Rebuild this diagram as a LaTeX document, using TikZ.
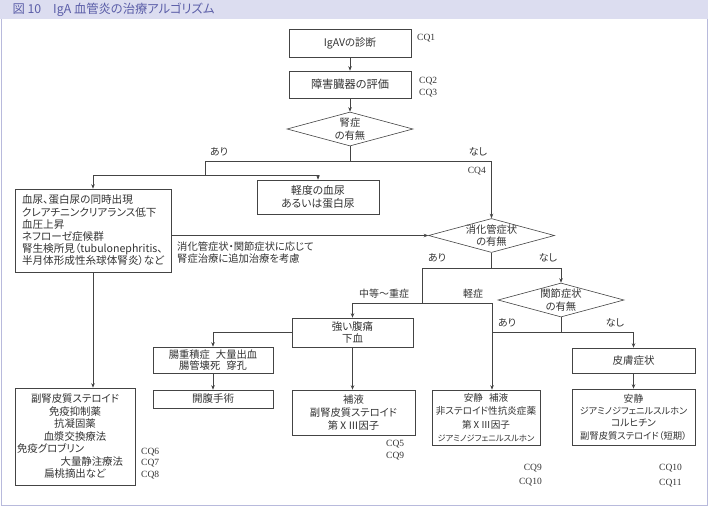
\documentclass[tikz,border=0pt]{standalone}
\usepackage{fontspec}
\setmainfont[RawFeature=+palt]{Noto Sans CJK JP}
\newfontfamily\cqfont{Liberation Serif}
\usetikzlibrary{shapes.geometric, arrows.meta}
\definecolor{lavender}{HTML}{DCDDF0}
\definecolor{framelav}{HTML}{B8BADC}
\definecolor{titleblue}{HTML}{5B5EA8}
\definecolor{wire}{HTML}{444444}
\definecolor{ink}{HTML}{333333}

\begin{document}
\begin{tikzpicture}[x=1pt, y=-1pt,
    every node/.style={text=ink},
    box/.style={draw=wire, line width=0.6pt, fill=white, align=center, inner sep=0pt, font=\fontsize{10.5}{12.5}\selectfont},
    dia/.style={diamond, draw=wire, line width=0.6pt, fill=white, minimum width=126pt, minimum height=34pt, inner sep=0pt},
    dtext/.style={align=center, inner sep=0pt, font=\fontsize{10.3}{12.5}\selectfont},
    lbl/.style={inner sep=0pt, font=\fontsize{10}{11}\selectfont},
    cq/.style={inner sep=0pt, align=left, font=\cqfont\fontsize{9.5}{12}\selectfont},
    link/.style={draw=wire, line width=0.6pt},
    arr/.style={link, -{Stealth[length=4.5pt, width=3.5pt]}}]
    \useasboundingbox (0,0) rectangle (708,506);

    % Frame and title bar
    \fill[lavender] (0,0) rectangle (708,19);
    \draw[framelav, line width=1pt] (1,19) -- (1,505) -- (707,505) -- (707,19);
    \node[anchor=west, text=titleblue, font=\fontsize{12.3}{13}\selectfont] (title) at (9,10) {図 10\hspace{12pt}IgA 血管炎の治療アルゴリズム};

    % Nodes
    \node[box, minimum width=122pt, minimum height=28pt] (diag) at (350,43) {IgAVの診断};
    \node[box, minimum width=122pt, minimum height=27pt, font=\fontsize{11.2}{12.5}\selectfont] (eval) at (350,84.5) {障害臓器の評価};
    \node[dia] (renal) at (350,129) {};
    \node[dtext] (renalt) at (renal) {腎症\\の有無};

    \node[box, minimum width=122pt, minimum height=34pt, font=\fontsize{10.8}{13}\selectfont] (mild) at (318,197) {軽度の血尿\\あるいは蛋白尿};
    \node[box, minimum width=156pt, minimum height=83pt, text width=142pt, align=left, font=\fontsize{10.6}{12.2}\selectfont] (big) at (93,230.5)
        {血尿、蛋白尿の同時出現\\クレアチニンクリアランス低下\\血圧上昇\\ネフローゼ症候群\\腎生検所見（tubulonephritis、\\半月体形成性糸球体腎炎）など};
    \node[anchor=west, align=left, inner sep=0pt, font=\fontsize{10.3}{11.5}\selectfont] (addnote) at (177,252.5)
        {消化管症状・関節症状に応じて\\腎症治療に追加治療を考慮};

    \node[dia] (gi) at (491.5,235.5) {};
    \node[dtext] (git) at (gi) {消化管症状\\の有無};
    \node[dia] (joint) at (561,300) {};
    \node[dtext] (jointt) at (joint) {関節症状\\の有無};

    \node[box, minimum width=121pt, minimum height=29pt] (pain) at (352.5,332.5) {強い腹痛\\下血};
    \node[box, minimum width=120pt, minimum height=26pt, font=\fontsize{10.3}{11.5}\selectfont] (intus) at (213,360)
        {腸重積症\hspace{6pt}大量出血\\腸管壊死\hspace{6pt}穿孔};
    \node[box, minimum width=120pt, minimum height=18pt] (surg) at (213,399) {開腹手術};
    \node[box, minimum width=123pt, minimum height=45pt, font=\fontsize{10.3}{13}\selectfont] (fluid) at (353.5,412.5)
        {補液\\副腎皮質ステロイド\\第ⅩⅢ因子};
    \node[box, minimum width=108pt, minimum height=55pt, font=\fontsize{9.6}{13.3}\selectfont] (rest) at (486,417.5)
        {安静\hspace{6pt}補液\\非ステロイド性抗炎症薬\\第ⅩⅢ因子\\{\fontsize{8.3}{13.3}\selectfont ジアミノジフェニルスルホン}};
    \node[box, minimum width=123pt, minimum height=25pt] (skin) at (633.5,360.5) {皮膚症状};
    \node[box, minimum width=123pt, minimum height=56pt, font=\fontsize{9.8}{12.3}\selectfont] (skintx) at (633.5,417)
        {安静\\{\fontsize{9.2}{12.3}\selectfont ジアミノジフェニルスルホン}\\コルヒチン\\{\fontsize{9.3}{12.3}\selectfont 副腎皮質ステロイド（短期）}};
    \node[box, minimum width=120pt, minimum height=97pt, font=\fontsize{10.4}{12.5}\selectfont] (ster) at (75,436.5)
        {副腎皮質ステロイド\\免疫抑制薬\\抗凝固薬\\血漿交換療法\\\makebox[116pt][l]{免疫グロブリン}\\\makebox[116pt][r]{大量静注療法\hspace{10pt}}\\扁桃摘出など};

    % Branch labels
    \node[lbl] (ari1) at (219,152) {あり};
    \node[lbl] (nashi1) at (478,152) {なし};
    \node[lbl] (ari2) at (437,258) {あり};
    \node[lbl] (nashi2) at (548,258) {なし};
    \node[lbl] (severe) at (384,294) {中等～重症};
    \node[lbl] (light) at (473,294) {軽症};
    \node[lbl] (ari3) at (507,323) {あり};
    \node[lbl] (nashi3) at (615,323) {なし};

    % CQ numbers
    \node[cq, anchor=west] (cq1) at (417,38) {CQ1};
    \node[cq, anchor=west] (cq23) at (419,87) {CQ2\\CQ3};
    \node[cq, anchor=east] (cq4) at (486,171) {CQ4};
    \node[cq, anchor=west] (cq59) at (386,450) {CQ5\\CQ9};
    \node[cq, anchor=west, font=\cqfont\fontsize{9.5}{11.5}\selectfont] (cq678) at (141,463.5) {CQ6\\CQ7\\CQ8};
    \node[cq, anchor=east, align=right, font=\cqfont\fontsize{9.5}{14}\selectfont] (cq910) at (542,475) {CQ9\\CQ10};
    \node[cq, anchor=west, font=\cqfont\fontsize{9.5}{14.5}\selectfont] (cq1011) at (659,475.5) {CQ10\\CQ11};

    % Junctions
    \coordinate (rl) at (205,161);
    \coordinate (rr) at (491.5,161);
    \coordinate (rs) at (205,175);
    \coordinate (gl) at (422,268);
    \coordinate (gr) at (561,268);
    \coordinate (gs) at (422,303);
    \coordinate (gm) at (492,303);
    \coordinate (jl) at (492,332);
    \coordinate (jr) at (633.5,332);

    % Connectors
    \draw[arr] (diag) -- (eval);
    \draw[arr] (eval) -- (renal);
    \draw[link] (renal.south) -- (renal.south |- rl);
    \draw[link] (rl) -- (rr);
    \draw[arr] (rr) -- (gi.north);
    \draw[link] (rl) -- (rs);
    \draw[arr] (rs) -| (mild.north);
    \draw[arr] (rs) -| (big.north);
    \draw[arr] (big.east |- gi.west) -- (gi.west);
    \draw[arr] (big.south) -- (big.south |- ster.north);

    \draw[link] (gi.south) -- (gi.south |- gl);
    \draw[link] (gl) -- (gr);
    \draw[arr] (gr) -- (joint.north);
    \draw[arr] (gl) -- (gs) -| (pain.north);
    \draw[arr] (gs) -- (gm) -- (gm |- rest.north);

    \draw[link] (joint.south) -- (joint.south |- jl);
    \draw[link] (jl) -- (jr);
    \draw[arr] (jr) -- (skin.north);
    \draw[arr] (skin) -- (skintx);

    \draw[arr] (pain.west) -| (intus.north);
    \draw[arr] (intus) -- (surg);
    \draw[arr] (pain.south) -- (pain.south |- fluid.north);
\end{tikzpicture}
\end{document}
